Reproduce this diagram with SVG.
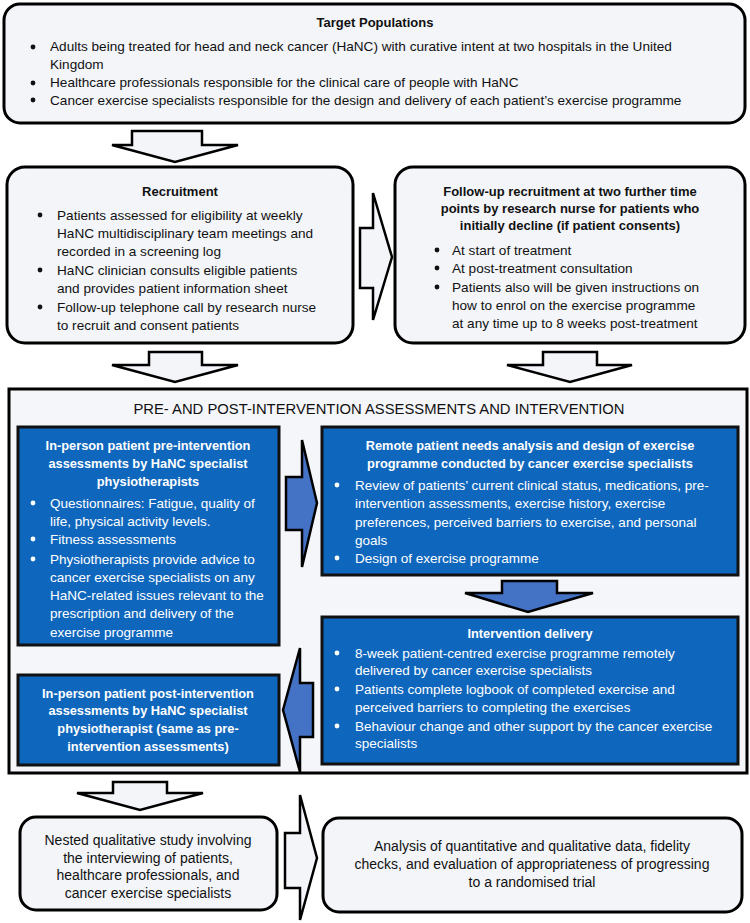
<svg xmlns="http://www.w3.org/2000/svg" width="750" height="923" viewBox="0 0 750 923">
<style>
.lb{fill:#f3f5f9;stroke:#000;stroke-width:3}
.bb{fill:#0f67bd;stroke:#111;stroke-width:3}
.wa{fill:#f3f5f9;stroke:#000;stroke-width:2.5;stroke-linejoin:miter}
.ba{fill:#4472c4;stroke:#000;stroke-width:2.5}
text{font-family:"Liberation Sans",Arial,sans-serif}
.t{font-size:13.6px;fill:#111}
.tr{font-size:13.6px;fill:#111}
.h{font-size:13px;font-weight:bold;fill:#111;text-anchor:middle}
.w{font-size:13.5px;fill:#fff}
.wh{font-size:12.8px;font-weight:bold;fill:#fff;text-anchor:middle}
.c{font-size:14px;fill:#111;text-anchor:middle}
.bk{fill:#111}
.bw{fill:#fff}
</style>
<rect width="750" height="923" fill="#fff"/>
<g id="target">
<rect class="lb" x="4" y="4" width="741" height="119" rx="16"/>
<text class="h" x="375" y="27">Target Populations</text>
<circle class="bk" cx="33" cy="47" r="2.4"/><circle class="bk" cx="33" cy="83" r="2.4"/><circle class="bk" cx="33" cy="100" r="2.4"/>
<text class="t" x="50" y="51">Adults being treated for head and neck cancer (HaNC) with curative intent at two hospitals in the United</text>
<text class="t" x="50" y="69">Kingdom</text>
<text class="t" x="50" y="87">Healthcare professionals responsible for the clinical care of people with HaNC</text>
<text class="t" x="50" y="105">Cancer exercise specialists responsible for the design and delivery of each patient’s exercise programme</text>
</g>
<g id="recruitment">
<rect class="lb" x="7" y="167" width="346" height="176" rx="18"/>
<text class="h" x="180" y="196">Recruitment</text>
<circle class="bk" cx="40" cy="215" r="2.4"/><circle class="bk" cx="40" cy="270" r="2.4"/><circle class="bk" cx="40" cy="307" r="2.4"/>
<text class="tr" x="57" y="220">Patients assessed for eligibility at weekly</text>
<text class="tr" x="57" y="238">HaNC multidisciplinary team meetings and</text>
<text class="tr" x="57" y="256">recorded in a screening log</text>
<text class="tr" x="57" y="275">HaNC clinician consults eligible patients</text>
<text class="tr" x="57" y="293">and provides patient information sheet</text>
<text class="tr" x="57" y="312">Follow-up telephone call by research nurse</text>
<text class="tr" x="57" y="330">to recruit and consent patients</text>
</g>
<g id="followup">
<rect class="lb" x="395" y="167" width="350" height="176" rx="18"/>
<text class="h" x="570" y="196">Follow-up recruitment at two further time</text>
<text class="h" x="570" y="213">points by research nurse for patients who</text>
<text class="h" x="570" y="230">initially decline (if patient consents)</text>
<circle class="bk" cx="437" cy="250" r="2.4"/><circle class="bk" cx="437" cy="268" r="2.4"/><circle class="bk" cx="437" cy="287" r="2.4"/>
<text class="tr" x="452" y="255">At start of treatment</text>
<text class="tr" x="452" y="273">At post-treatment consultation</text>
<text class="tr" x="452" y="292">Patients also will be given instructions on</text>
<text class="tr" x="452" y="310">how to enrol on the exercise programme</text>
<text class="tr" x="452" y="328">at any time up to 8 weeks post-treatment</text>
</g>
<g id="assessments">
<rect x="9" y="389" width="738" height="384" fill="#f5f6f9" stroke="#000" stroke-width="3"/>
<text x="379" y="414" font-size="14.8px" fill="#111" text-anchor="middle">PRE- AND POST-INTERVENTION ASSESSMENTS AND INTERVENTION</text>
</g>
<g id="pre">
<rect class="bb" x="18" y="427" width="261" height="218"/>
<text class="wh" x="148" y="450">In-person patient pre-intervention</text>
<text class="wh" x="148" y="468">assessments by HaNC specialist</text>
<text class="wh" x="148" y="486">physiotherapists</text>
<circle class="bw" cx="33" cy="503" r="2.4"/><circle class="bw" cx="33" cy="539" r="2.4"/><circle class="bw" cx="33" cy="559" r="2.4"/>
<text class="w" x="50" y="508">Questionnaires: Fatigue, quality of</text>
<text class="w" x="50" y="526">life, physical activity levels.</text>
<text class="w" x="50" y="544">Fitness assessments</text>
<text class="w" x="50" y="564">Physiotherapists provide advice to</text>
<text class="w" x="50" y="582">cancer exercise specialists on any</text>
<text class="w" x="50" y="600">HaNC-related issues relevant to the</text>
<text class="w" x="50" y="618">prescription and delivery of the</text>
<text class="w" x="50" y="637">exercise programme</text>
</g>
<g id="remote">
<rect class="bb" x="322" y="427" width="416" height="148"/>
<text class="wh" x="530" y="450">Remote patient needs analysis and design of exercise</text>
<text class="wh" x="530" y="468">programme conducted by cancer exercise specialists</text>
<circle class="bw" cx="337" cy="485" r="2.4"/><circle class="bw" cx="337" cy="558" r="2.4"/>
<text class="w" x="355" y="490">Review of patients’ current clinical status, medications, pre-</text>
<text class="w" x="355" y="508">intervention assessments, exercise history, exercise</text>
<text class="w" x="355" y="527">preferences, perceived barriers to exercise, and personal</text>
<text class="w" x="355" y="545">goals</text>
<text class="w" x="355" y="563">Design of exercise programme</text>
</g>
<g id="delivery">
<rect class="bb" x="322" y="617" width="416" height="147"/>
<text class="wh" x="530" y="638">Intervention delivery</text>
<circle class="bw" cx="337" cy="653" r="2.4"/><circle class="bw" cx="337" cy="689" r="2.4"/><circle class="bw" cx="337" cy="726" r="2.4"/>
<text class="w" x="355" y="658">8-week patient-centred exercise programme remotely</text>
<text class="w" x="355" y="675">delivered by cancer exercise specialists</text>
<text class="w" x="355" y="694">Patients complete logbook of completed exercise and</text>
<text class="w" x="355" y="712">perceived barriers to completing the exercises</text>
<text class="w" x="355" y="731">Behaviour change and other support by the cancer exercise</text>
<text class="w" x="355" y="748">specialists</text>
</g>
<g id="post">
<rect class="bb" x="18" y="675" width="261" height="90"/>
<text class="wh" x="148" y="698">In-person patient post-intervention</text>
<text class="wh" x="148" y="715">assessments by HaNC specialist</text>
<text class="wh" x="148" y="733">physiotherapist (same as pre-</text>
<text class="wh" x="148" y="751">intervention assessments)</text>
</g>
<g id="nested">
<rect class="lb" x="20" y="817" width="257" height="93" rx="16"/>
<text class="c" x="148" y="845">Nested qualitative study involving</text>
<text class="c" x="148" y="863">the interviewing of patients,</text>
<text class="c" x="148" y="880">healthcare professionals, and</text>
<text class="c" x="148" y="898">cancer exercise specialists</text>
</g>
<g id="analysis">
<rect class="lb" x="323" y="818" width="419" height="94" rx="16"/>
<text class="c" x="532" y="851">Analysis of quantitative and qualitative data, fidelity</text>
<text class="c" x="532" y="869">checks, and evaluation of appropriateness of progressing</text>
<text class="c" x="532" y="887">to a randomised trial</text>
</g>
<g id="connectors">
<polygon class="wa" points="132,131 202,131 202,145 238,145 175,162 112,145 132,145"/>
<polygon class="wa" points="360,228 373,228 373,193 392,257 373,320 373,288 360,288"/>
<polygon class="wa" points="149,352 202,352 202,365 238,365 175,382 112,365 149,365"/>
<polygon class="wa" points="543,352 597,352 597,365 632,365 570,382 507,365 543,365"/>
<polygon class="ba" points="286,477 302,477 302,440 317,503 302,567 302,530 286,530"/>
<polygon class="ba" points="502,581 557,581 557,593 593,593 528,612 465,593 502,593"/>
<polygon class="ba" points="313,683 300,683 300,648 283,710 300,772 300,737 313,737"/>
<polygon class="wa" points="113,782 167,782 167,793 203,793 140,810 77,793 113,793"/>
<polygon class="wa" points="285,833 300,833 300,795 317,858 300,920 300,888 285,888"/>
</g>
</svg>
